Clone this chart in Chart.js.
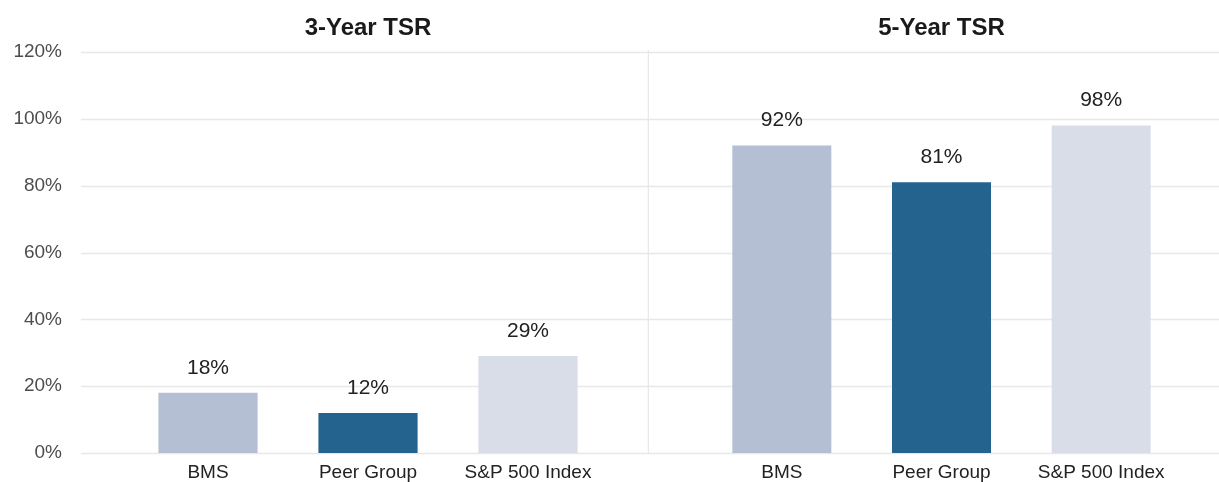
<!DOCTYPE html>
<html>
<head>
	<title>TSR comparison</title>
	<script src="https://cdn.jsdelivr.net/npm/chart.js@4.4.1/dist/chart.umd.min.js"></script>
	<style>
		html, body { margin: 0; padding: 0; background: #fff; overflow: hidden; }
		#wrap { position: relative; width: 1219px; height: 482px; }
		#box1 { position: absolute; left: 0; top: 0; width: 649px; height: 482px; }
		#box2 { position: absolute; left: 649px; top: 0; width: 570px; height: 482px; }
	</style>
</head>
<body>
	<script type="text/javascript">
		var categories = ['BMS', 'Peer Group', 'S&P 500 Index'];
		var tsr3Year = [18, 12, 29];
		var tsr5Year = [92, 81, 98];
		var panelTitles = ['3-Year TSR', '5-Year TSR'];
		var yTicks = [0, 20, 40, 60, 80, 100, 120];
		var barColors = ['#b4bfd3', '#25638f', '#d8dde7'];

		var FONT = "'Liberation Sans', Arial, Helvetica, sans-serif";

		// grid lines + y labels are drawn by hand so they can run past the plot area
		function gridPlugin(x0, x1, divider, showYLabels) {
			return {
				id: 'grid',
				beforeDatasetsDraw: function(chart){
					var ctx = chart.ctx;
					var y = chart.scales.y;
					ctx.save();
					ctx.strokeStyle = '#e8e8e8';
					ctx.lineWidth = 1.5;
					yTicks.forEach(function(v){
						var py = Math.round(y.getPixelForValue(v)) + 0.5;
						ctx.beginPath();
						ctx.moveTo(x0, py);
						ctx.lineTo(x1, py);
						ctx.stroke();
					});
					if (divider !== null) {
						ctx.beginPath();
						ctx.moveTo(divider, y.getPixelForValue(120) - 2);
						ctx.lineTo(divider, y.getPixelForValue(0));
						ctx.stroke();
					}
					if (showYLabels) {
						ctx.fillStyle = '#4d4d4d';
						ctx.font = '19px ' + FONT;
						ctx.textAlign = 'right';
						ctx.textBaseline = 'middle';
						yTicks.forEach(function(v){
							ctx.fillText(v + '%', 62, y.getPixelForValue(v));
						});
					}
					ctx.restore();
				}
			};
		}

		// panel title + value labels above each bar
		var labelPlugin = {
			id: 'valueLabels',
			afterDatasetsDraw: function(chart){
				var ctx = chart.ctx;
				var area = chart.chartArea;
				var meta = chart.getDatasetMeta(0);
				var vals = chart.data.datasets[0].data;
				ctx.save();
				ctx.textAlign = 'center';
				ctx.textBaseline = 'middle';
				ctx.fillStyle = '#1a1a1a';
				ctx.font = 'bold 24px ' + FONT;
				ctx.fillText(chart.options.panelTitle, (area.left + area.right) / 2, 28);
				ctx.fillStyle = '#222';
				ctx.font = '21px ' + FONT;
				meta.data.forEach(function(bar, i){
					ctx.fillText(vals[i] + '%', bar.x, bar.y - 25);
				});
				ctx.restore();
			}
		};

		function makeChart(id, data, title, padLeft, padRight, plugins) {
			return new Chart(document.getElementById(id), {
				type: 'bar',
				data: {
					labels: categories,
					datasets: [{
						data: data,
						backgroundColor: barColors,
						barPercentage: 0.62,
						categoryPercentage: 1
					}]
				},
				options: {
					panelTitle: title,
					responsive: false,
					animation: false,
					layout: { padding: { left: padLeft, right: padRight, top: 52, bottom: -10 } },
					plugins: {
						legend: { display: false },
						tooltip: { enabled: false },
						title: { display: false }
					},
					scales: {
						x: {
							grid: { display: false, drawTicks: false },
							border: { display: false },
							ticks: {
								color: '#222',
								padding: 10,
								autoSkip: false,
								maxRotation: 0,
								font: { family: FONT, size: 19, lineHeight: 1 }
							}
						},
						y: {
							display: false,
							min: 0,
							max: 120
						}
					}
				},
				plugins: plugins
			});
		}
	</script>
	<div id="wrap">
		<div id="box1"><canvas id="chart1" width="649" height="482"></canvas></div>
		<div id="box2"><canvas id="chart2" width="570" height="482"></canvas></div>
	</div>
	<script type="text/javascript">
		var chart1 = makeChart('chart1', tsr3Year, panelTitles[0], 128, 41,
			[gridPlugin(81, 649, 648.5, true), labelPlugin]);
		var chart2 = makeChart('chart2', tsr5Year, panelTitles[1], 53, 38,
			[gridPlugin(0, 570, null, false), labelPlugin]);
	</script>
</body>
</html>
